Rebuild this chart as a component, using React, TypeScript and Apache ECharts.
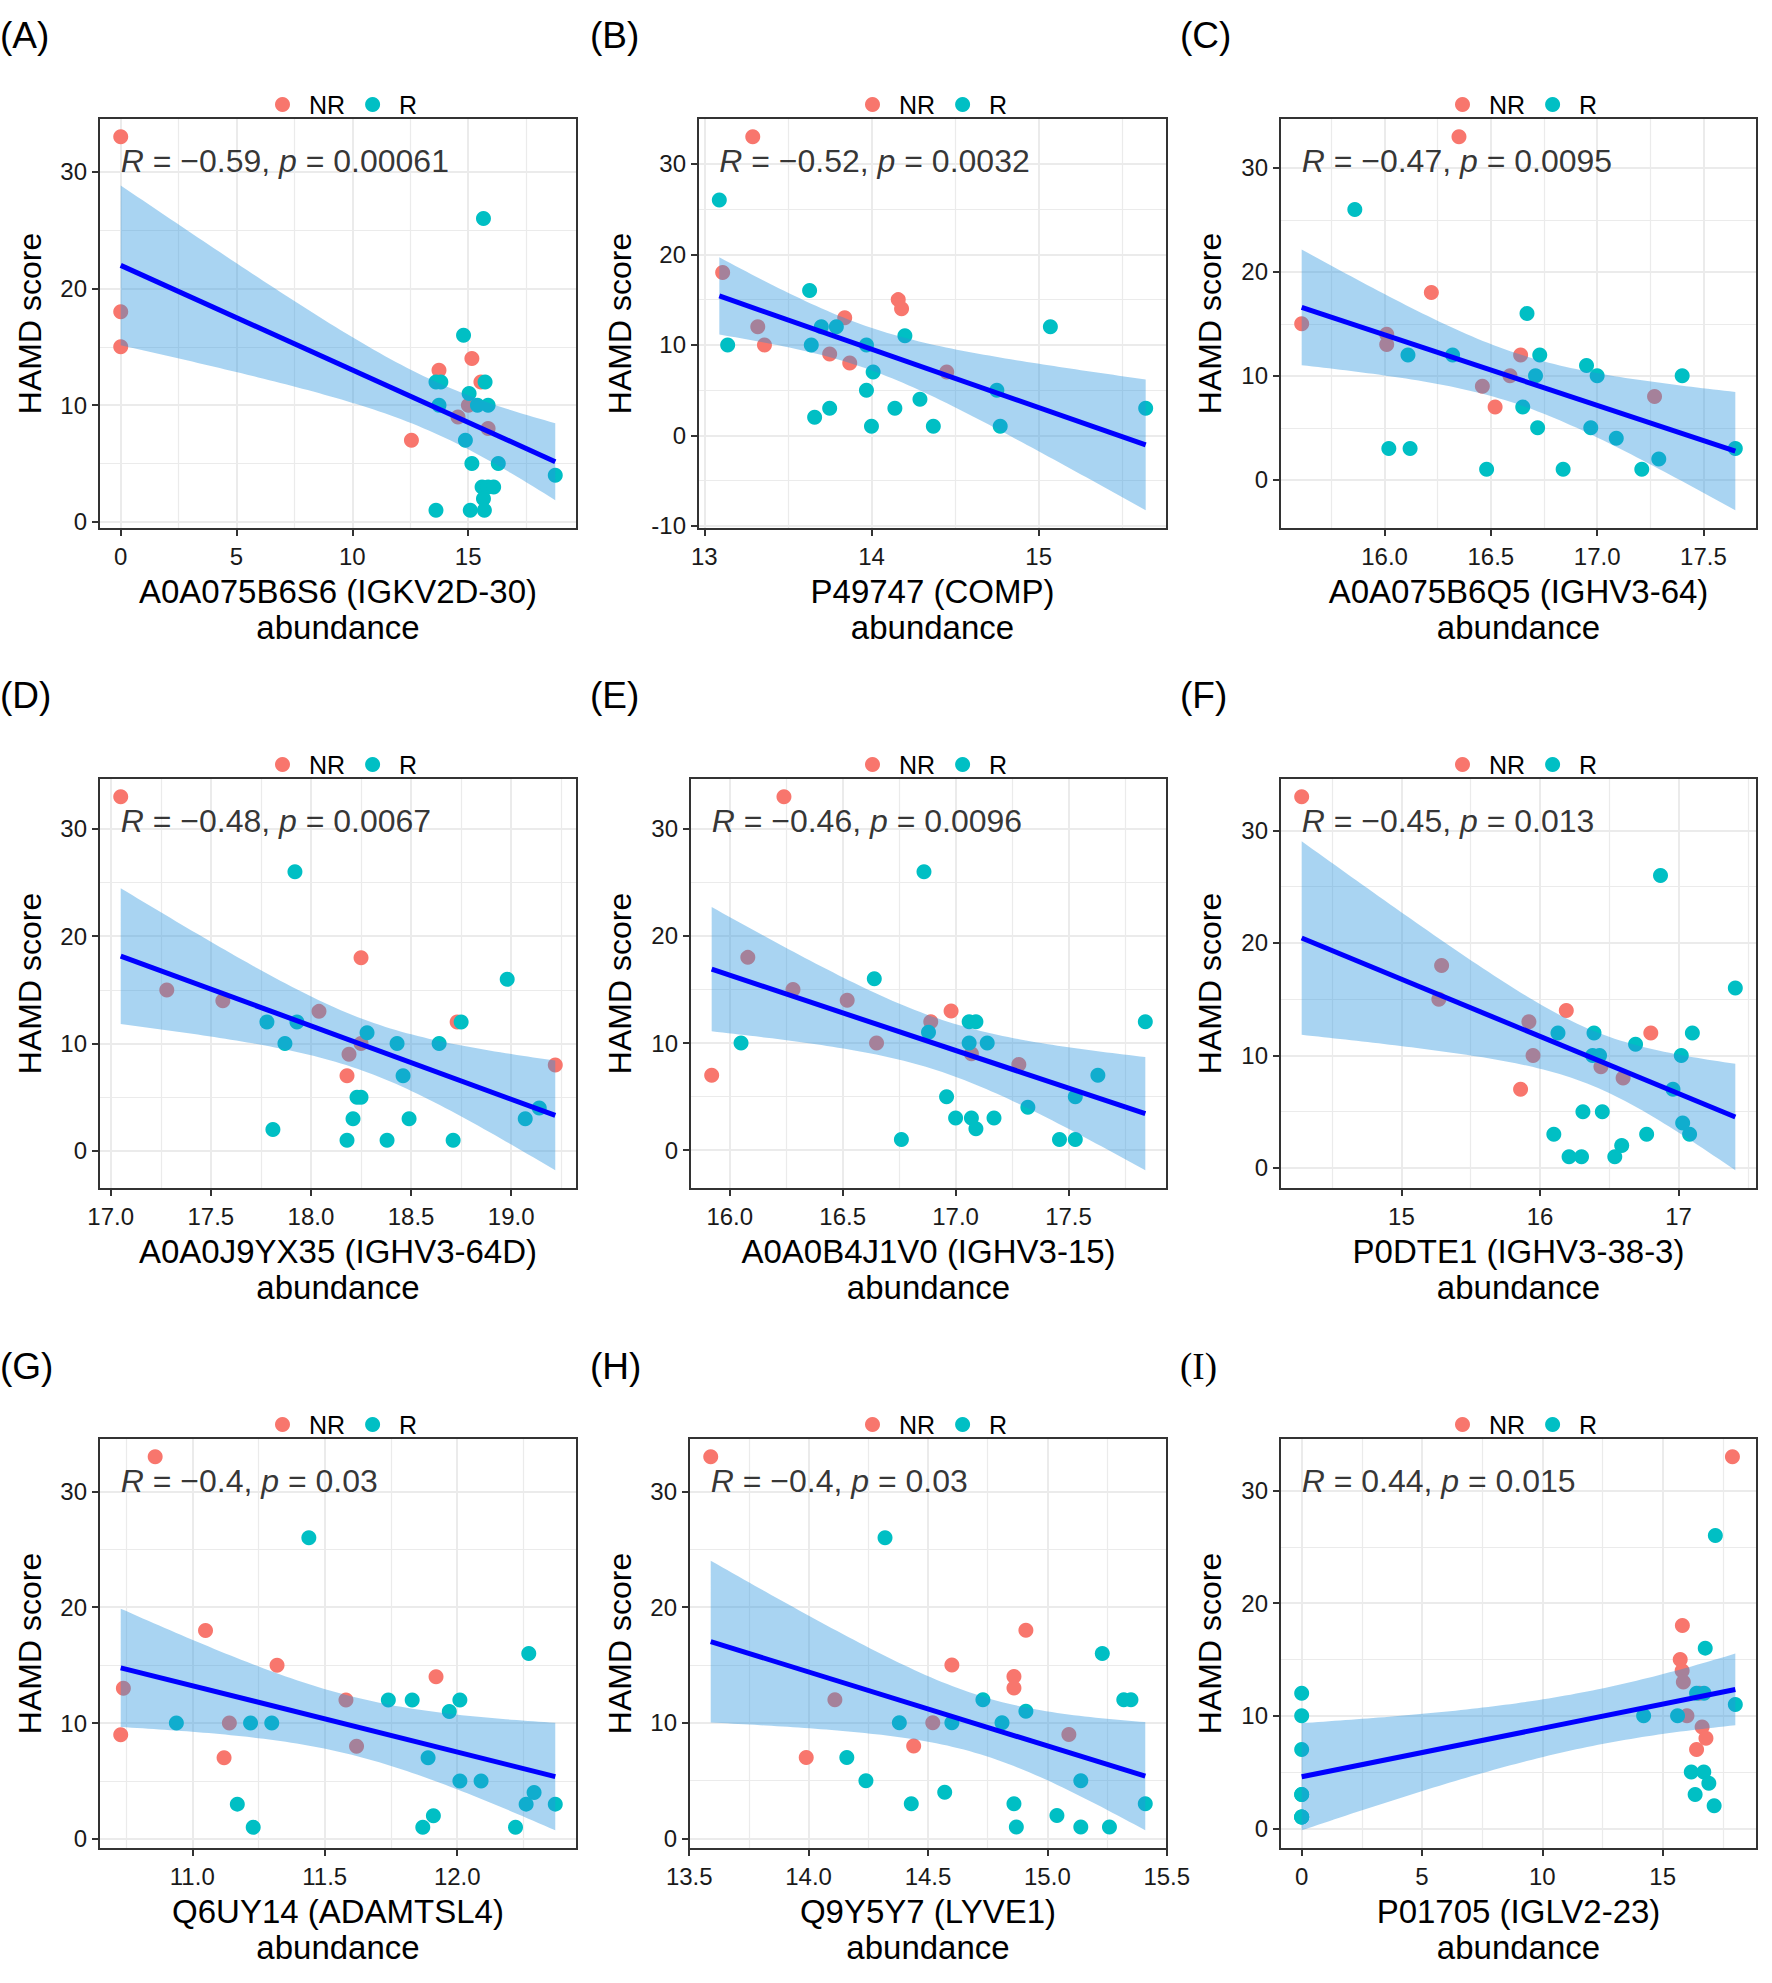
import React, { useEffect, useRef } from 'react'
import * as echarts from 'echarts'

type Pt = [number, number]

// ---- data: [abundance, HAMD score] ----
const nrA: Pt[] = [[0, 33], [0, 18], [0, 15], [13.74, 13], [15.16, 14], [15.55, 12], [15.01, 10], [14.56, 9], [15.86, 8], [12.55, 7]]
const rA: Pt[] = [[15.66, 26], [14.8, 16], [13.61, 12], [13.82, 12], [15.73, 12], [15.04, 11], [13.74, 10], [15.4, 10], [15.86, 10], [14.88, 7], [15.16, 5], [16.3, 5], [18.76, 4], [15.6, 3], [15.86, 3], [16.1, 3], [15.66, 2], [13.61, 1], [15.09, 1], [15.7, 1]]

const nrB: Pt[] = [[13.29, 33], [13.11, 18], [13.32, 12], [13.36, 10], [13.84, 13], [13.75, 9], [13.87, 8], [14.16, 15], [14.18, 14], [14.45, 7]]
const rB: Pt[] = [[13.09, 26], [13.63, 16], [13.7, 12], [13.79, 12], [15.07, 12], [14.2, 11], [13.14, 10], [13.64, 10], [13.97, 10], [14.01, 7], [13.97, 5], [14.75, 5], [14.29, 4], [13.75, 3], [14.14, 3], [15.64, 3], [13.66, 2], [14.0, 1], [14.37, 1], [14.77, 1]]

const nrC: Pt[] = [[16.35, 33], [16.22, 18], [15.61, 15], [16.01, 14], [16.01, 13], [16.64, 12], [16.59, 10], [16.46, 9], [17.27, 8], [16.52, 7]]
const rC: Pt[] = [[15.86, 26], [16.67, 16], [16.11, 12], [16.32, 12], [16.73, 12], [16.95, 11], [16.71, 10], [17.0, 10], [17.4, 10], [16.65, 7], [16.72, 5], [16.97, 5], [17.09, 4], [16.02, 3], [16.12, 3], [17.65, 3], [17.29, 2], [16.48, 1], [16.84, 1], [17.21, 1]]

const nrD: Pt[] = [[17.05, 33], [18.25, 18], [17.28, 15], [17.56, 14], [18.04, 13], [18.73, 12], [18.25, 10], [18.19, 9], [19.22, 8], [18.18, 7]]
const rD: Pt[] = [[17.92, 26], [18.98, 16], [17.78, 12], [17.93, 12], [18.75, 12], [18.28, 11], [17.87, 10], [18.43, 10], [18.64, 10], [18.46, 7], [18.23, 5], [18.25, 5], [19.14, 4], [18.21, 3], [18.49, 3], [19.07, 3], [17.81, 2], [18.18, 1], [18.38, 1], [18.71, 1]]

const nrE: Pt[] = [[16.24, 33], [16.08, 18], [16.28, 15], [16.52, 14], [16.98, 13], [16.89, 12], [16.65, 10], [17.07, 9], [17.28, 8], [15.92, 7]]
const rE: Pt[] = [[16.86, 26], [16.64, 16], [17.06, 12], [17.09, 12], [17.84, 12], [16.88, 11], [16.05, 10], [17.06, 10], [17.14, 10], [17.63, 7], [16.96, 5], [17.53, 5], [17.32, 4], [17.0, 3], [17.07, 3], [17.17, 3], [17.09, 2], [16.76, 1], [17.46, 1], [17.53, 1]]

const nrF: Pt[] = [[14.28, 33], [15.29, 18], [15.27, 15], [16.19, 14], [15.92, 13], [16.8, 12], [15.95, 10], [16.44, 9], [16.6, 8], [15.86, 7]]
const rF: Pt[] = [[16.87, 26], [17.41, 16], [16.13, 12], [16.39, 12], [17.1, 12], [16.69, 11], [16.38, 10], [16.43, 10], [17.02, 10], [16.96, 7], [16.31, 5], [16.45, 5], [17.03, 4], [16.1, 3], [16.77, 3], [17.08, 3], [16.59, 2], [16.21, 1], [16.3, 1], [16.54, 1]]

const nrG: Pt[] = [[10.86, 33], [11.05, 18], [11.32, 15], [11.92, 14], [10.74, 13], [11.58, 12], [11.14, 10], [10.73, 9], [11.62, 8], [11.12, 7]]
const rG: Pt[] = [[11.44, 26], [12.27, 16], [11.74, 12], [11.83, 12], [12.01, 12], [11.97, 11], [10.94, 10], [11.22, 10], [11.3, 10], [11.89, 7], [12.01, 5], [12.09, 5], [12.29, 4], [11.17, 3], [12.26, 3], [12.37, 3], [11.91, 2], [11.23, 1], [11.87, 1], [12.22, 1]]

const nrH: Pt[] = [[13.59, 33], [14.91, 18], [14.6, 15], [14.86, 14], [14.86, 13], [14.11, 12], [14.52, 10], [15.09, 9], [14.44, 8], [13.99, 7]]
const rH: Pt[] = [[14.32, 26], [15.23, 16], [14.73, 12], [15.32, 12], [15.35, 12], [14.91, 11], [14.38, 10], [14.6, 10], [14.81, 10], [14.16, 7], [14.24, 5], [15.14, 5], [14.57, 4], [14.43, 3], [14.86, 3], [15.41, 3], [15.04, 2], [14.87, 1], [15.14, 1], [15.26, 1]]

const nrI: Pt[] = [[17.9, 33], [15.82, 18], [15.73, 15], [15.81, 14], [15.86, 13], [16.52, 12], [16.01, 10], [16.64, 9], [16.8, 8], [16.41, 7]]
const rI: Pt[] = [[0, 12], [0, 10], [0, 7], [0, 3], [0, 3], [0, 1], [0, 1], [0, 1], [17.19, 26], [16.77, 16], [16.41, 12], [16.72, 12], [18.02, 11], [14.21, 10], [15.62, 10], [16.19, 5], [16.71, 5], [16.92, 4], [16.35, 3], [17.14, 2]]

const panelLabels = ['(A)', '(B)', '(C)', '(D)', '(E)', '(F)', '(G)', '(H)', '(I)']
const xTitles = [
  'A0A075B6S6 (IGKV2D-30)', 'P49747 (COMP)', 'A0A075B6Q5 (IGHV3-64)',
  'A0A0J9YX35 (IGHV3-64D)', 'A0A0B4J1V0 (IGHV3-15)', 'P0DTE1 (IGHV3-38-3)',
  'Q6UY14 (ADAMTSL4)', 'Q9Y5Y7 (LYVE1)', 'P01705 (IGLV2-23)',
]
const corrR = ['\u22120.59', '\u22120.52', '\u22120.47', '\u22120.48', '\u22120.46', '\u22120.45', '\u22120.4', '\u22120.4', '0.44']
const corrP = ['0.00061', '0.0032', '0.0095', '0.0067', '0.0096', '0.013', '0.03', '0.03', '0.015']

const xMajor = [
  [0, 5, 10, 15], [13, 14, 15], [16, 16.5, 17, 17.5],
  [17, 17.5, 18, 18.5, 19], [16, 16.5, 17, 17.5], [15, 16, 17],
  [11, 11.5, 12], [13.5, 14, 14.5, 15, 15.5], [0, 5, 10, 15],
]
const xMinor = [
  [2.5, 7.5, 12.5, 17.5], [13.5, 14.5, 15.5], [15.75, 16.25, 16.75, 17.25],
  [17.25, 17.75, 18.25, 18.75, 19.25], [16.25, 16.75, 17.25, 17.75], [14.5, 15.5, 16.5, 17.5],
  [10.75, 11.25, 11.75, 12.25], [13.75, 14.25, 14.75, 15.25], [2.5, 7.5, 12.5, 17.5],
]
const xDecimals = [0, 0, 1, 1, 1, 0, 1, 1, 0]
const yMajorStd = [0, 10, 20, 30]
const yMinorStd = [5, 15, 25]
const yMajorB = [-10, 0, 10, 20, 30]
const yMinorB = [-5, 5, 15, 25]

// ---- styling / layout ----
const NR_COLOR = '#F8766D'
const R_COLOR = '#00BFC4'
const BAND_COLOR = 'rgba(40,147,222,0.4)'
const FONT = '"Liberation Sans", Arial, sans-serif'
const COL_X = [0, 590, 1180]
const ROW_Y = [0, 660, 1320]
const LABEL_Y = [35, 695, 1366]
const BOX_LEFT = [99, 108, 100, 99, 100, 100, 99, 99, 100]
const BOX_TOP = 118
const BOX_RIGHT = 577
const BOX_H = 411
const T_CRIT = 2.048 // qt(0.975, df = 28), n = 30

type BandRow = [number, number, number]

function linearFit(pts: Pt[]) {
  const n = pts.length
  const mx = pts.reduce((s, p) => s + p[0], 0) / n
  const my = pts.reduce((s, p) => s + p[1], 0) / n
  let sxx = 0
  let sxy = 0
  pts.forEach(([x, y]) => {
    sxx += (x - mx) * (x - mx)
    sxy += (x - mx) * (y - my)
  })
  const b = sxy / sxx
  const a = my - b * mx
  let rss = 0
  pts.forEach(([x, y]) => {
    rss += (y - a - b * x) ** 2
  })
  const s = Math.sqrt(rss / (n - 2))
  const xs = pts.map(p => p[0])
  const x0 = Math.min(...xs)
  const x1 = Math.max(...xs)
  const band: BandRow[] = []
  // like geom_smooth(method = "lm"): the fit and its 95% CI over the data range, 80 steps
  for (let k = 0; k < 80; k++) {
    const x = x0 + ((x1 - x0) * k) / 79
    const yh = a + b * x
    const se = s * Math.sqrt(1 / n + ((x - mx) * (x - mx)) / sxx)
    band.push([x, yh - T_CRIT * se, yh + T_CRIT * se])
  }
  const line: Pt[] = [[x0, a + b * x0], [x1, a + b * x1]]
  return {
    band,
    line,
    x0,
    x1,
    lo: Math.min(...band.map(r => r[1])),
    hi: Math.max(...band.map(r => r[2])),
  }
}

const panels = [
  [nrA, rA], [nrB, rB], [nrC, rC], [nrD, rD], [nrE, rE], [nrF, rF], [nrG, rG], [nrH, rH], [nrI, rI],
]

function buildOption() {
  const grid: any[] = []
  const xAxis: any[] = []
  const yAxis: any[] = []
  const legend: any[] = []
  const series: any[] = []
  const graphic: any[] = []

  panels.forEach(([nr, r], i) => {
    const col = i % 3
    const row = Math.floor(i / 3)
    const ox = COL_X[col]
    const oy = ROW_Y[row]
    const all = [...nr, ...r]
    const fit = linearFit(all)
    const ys = all.map(p => p[1])
    const yLo = Math.min(fit.lo, ...ys)
    const yHi = Math.max(fit.hi, ...ys)
    const yPad = (yHi - yLo) * 0.05
    const xPad = (fit.x1 - fit.x0) * 0.05
    const xMin = fit.x0 - xPad
    const xMax = fit.x1 + xPad
    const yMin = yLo - yPad
    const yMax = yHi + yPad
    const left = ox + BOX_LEFT[i]
    const top = oy + BOX_TOP
    const width = ox + BOX_RIGHT - left
    const yMaj = i === 1 ? yMajorB : yMajorStd
    const yMin2 = i === 1 ? yMinorB : yMinorStd
    const dec = xDecimals[i]

    grid.push({
      left,
      top,
      width,
      height: BOX_H,
      show: true,
      backgroundColor: '#fff',
      borderWidth: 0,
      containLabel: false,
      outerBoundsMode: 'none',
    })

    // major axis: ticks, labels, major grid lines, title
    xAxis.push({
      type: 'value', gridIndex: i, position: 'bottom', min: xMin, max: xMax,
      axisLine: { show: false, onZero: false },
      axisTick: { show: true, customValues: xMajor[i], length: 7, lineStyle: { color: '#333', width: 2 } },
      axisLabel: {
        customValues: xMajor[i], margin: 15, fontSize: 24, color: '#1a1a1a', fontFamily: FONT,
        formatter: (v: number) => v.toFixed(dec),
      },
      splitLine: { show: true, lineStyle: { color: '#EBEBEB', width: 2 } },
      name: xTitles[i] + '\nabundance', nameLocation: 'middle', nameGap: 44,
      nameTextStyle: { fontSize: 33, lineHeight: 36, color: '#000', fontFamily: FONT },
    })
    // minor axis: minor grid lines only
    xAxis.push({
      type: 'value', gridIndex: i, position: 'bottom', min: xMin, max: xMax,
      axisLine: { show: false, onZero: false },
      axisTick: { show: false, customValues: xMinor[i] },
      axisLabel: { show: false },
      splitLine: { show: true, lineStyle: { color: '#EBEBEB', width: 1.2 } },
    })
    yAxis.push({
      type: 'value', gridIndex: i, position: 'left', min: yMin, max: yMax,
      axisLine: { show: false, onZero: false },
      axisTick: { show: true, customValues: yMaj, length: 7, lineStyle: { color: '#333', width: 2 } },
      axisLabel: { customValues: yMaj, margin: 12, fontSize: 24, color: '#1a1a1a', fontFamily: FONT },
      splitLine: { show: true, lineStyle: { color: '#EBEBEB', width: 2 } },
      name: 'HAMD score', nameLocation: 'middle', nameRotate: 90, nameGap: BOX_LEFT[i] - 46,
      nameTextStyle: { fontSize: 32, color: '#000', fontFamily: FONT },
    })
    yAxis.push({
      type: 'value', gridIndex: i, position: 'left', min: yMin, max: yMax,
      axisLine: { show: false, onZero: false },
      axisTick: { show: false, customValues: yMin2 },
      axisLabel: { show: false },
      splitLine: { show: true, lineStyle: { color: '#EBEBEB', width: 1.2 } },
    })

    legend.push({
      data: ['NR', 'R'],
      left: ox + 275,
      top: oy + 92,
      padding: 0,
      orient: 'horizontal',
      icon: 'circle',
      itemWidth: 15,
      itemHeight: 15,
      itemGap: 20,
      selectedMode: false,
      textStyle: { fontSize: 25, color: '#000', fontFamily: FONT, padding: [0, 0, 0, 14] },
    })

    const axes = { xAxisIndex: 2 * i, yAxisIndex: 2 * i }
    series.push({
      type: 'scatter', name: 'NR', ...axes, data: nr, symbolSize: 15, z: 2,
      itemStyle: { color: NR_COLOR, opacity: 1 }, silent: true,
    })
    series.push({
      type: 'scatter', name: 'R', ...axes, data: r, symbolSize: 15, z: 2,
      itemStyle: { color: R_COLOR, opacity: 1 }, silent: true,
    })
    // confidence band over the points, one polygon through the upper then the lower edge
    series.push({
      type: 'custom', name: 'ci-' + i, ...axes, data: fit.band, z: 3,
      encode: { x: 0, y: [1, 2] }, silent: true,
      renderItem: (params: any, api: any) => {
        if (params.dataIndex !== 0) return null
        const upper = fit.band.map(b => api.coord([b[0], b[2]]))
        const lower = fit.band.map(b => api.coord([b[0], b[1]])).reverse()
        return {
          type: 'polygon',
          shape: { points: upper.concat(lower) },
          style: { fill: BAND_COLOR, stroke: 'none' },
        }
      },
    })
    series.push({
      type: 'line', name: 'fit-' + i, ...axes, data: fit.line, symbol: 'none',
      lineStyle: { color: '#0000FF', width: 5 }, silent: true, z: 4,
    })
    // correlation label, anchored at the left end of the data, near the panel top
    series.push({
      type: 'scatter', name: 'cor-' + i, ...axes, data: [[fit.x0, yMax]], symbolSize: 0.1,
      itemStyle: { color: 'transparent' }, silent: true, z: 6,
      label: {
        show: true, position: [0, 43], align: 'left', verticalAlign: 'middle',
        formatter: `{i|R}{n| = ${corrR[i]}, }{i|p}{n| = ${corrP[i]}}`,
        rich: {
          i: { fontStyle: 'italic', fontSize: 32, fontFamily: FONT, color: '#000' },
          n: { fontSize: 32, fontFamily: FONT, color: '#000' },
        },
      },
    })

    // panel border drawn above the grid lines, as ggplot's panel.border
    graphic.push({
      type: 'rect',
      z: 100,
      silent: true,
      shape: { x: left, y: top, width, height: BOX_H },
      style: { fill: 'none', stroke: '#333', lineWidth: 2 },
    })
    graphic.push({
      type: 'text',
      x: ox,
      y: LABEL_Y[row],
      style: {
        text: panelLabels[i],
        fontSize: 37,
        fontFamily: i === 8 ? '"Liberation Serif", serif' : FONT,
        fill: '#000',
        verticalAlign: 'middle',
      },
    })
  })

  return {
    animation: false,
    backgroundColor: '#fff',
    textStyle: { fontFamily: FONT },
    grid,
    xAxis,
    yAxis,
    legend,
    series,
    graphic,
  }
}

export default function App() {
  const containerRef = useRef<HTMLDivElement>(null)

  useEffect(() => {
    if (!containerRef.current) return
    const chart = echarts.init(containerRef.current, null, { renderer: 'svg' })
    chart.setOption(buildOption() as any)
    return () => {
      chart.dispose()
    }
  }, [])

  return (
    <div
      ref={containerRef}
      style={{ position: 'absolute', left: 0, top: 0, width: 1772, height: 1983, background: '#fff' }}
    />
  )
}
